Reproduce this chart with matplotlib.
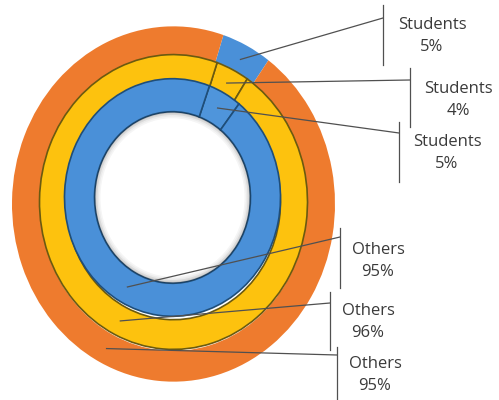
import matplotlib.pyplot as plt
import numpy as np

# data: inner, middle and outer ring
rings = ['inner', 'middle', 'outer']
categories = ['Students', 'Others']
students = [5, 4, 5]
others = [95, 96, 95]

W, H = 499, 400
S = 1.1  # the rings are a bit taller than wide


def px(x, y):
    # picture pixel (from top left) -> data coords
    return x, (H - y) / S


# ring geometry (pixels), start angle of the Students slice, colours
centers = [(172.5, 197.5), (173.5, 202), (173.5, 204)]
radius = [108, 134, 161.5]
width = [30, 27, 28]
start = [70, 71, 72]
colors = [['#4f95db', '#4a90d8'], ['#fdc20e', '#fdc20e'], ['#4a90d8', '#ee7b2e']]
edges = ['#1f4e79', '#6b5a10', 'none']

# label layout: bar x, bar top, bar bottom, line end y, text centre x, text centre y
stud_lab = [(399, 122, 182, 133, 447, 153), (410, 68, 127, 80, 458, 100), (383, 5, 65, 18, 432, 36)]
oth_lab = [(340, 228, 288, 237, 378, 261), (330, 292, 350, 303, 368, 322), (337, 347, 400, 355, 375, 375)]

fig = plt.figure(figsize=(W / 100, H / 100), dpi=100)
ax = fig.add_axes([0, 0, 1, 1])

all_wedges = []
for i in [2, 1, 0]:
    wedges, _ = ax.pie([students[i], others[i]], radius=radius[i], center=px(*centers[i]),
                       startangle=start[i], counterclock=False, colors=colors[i],
                       wedgeprops=dict(width=width[i], edgecolor=edges[i], linewidth=1.2))
    all_wedges.append((i, wedges))

# soft shadow inside the hole
cx, cy = px(*centers[0])
rin = radius[0] - width[0]
for k, a in enumerate([0.25, 0.15, 0.08, 0.04]):
    ax.pie([1], radius=rin - k * 1.5, center=(cx, cy), colors=['#000000'],
           wedgeprops=dict(width=1.5, alpha=a, linewidth=0))

lc = '#505050'
for i, wedges in all_wedges:
    for j, w in enumerate(wedges):
        th = np.deg2rad((w.theta1 + w.theta2) / 2)
        rm = w.r - w.width / 2
        x0 = w.center[0] + rm * np.cos(th)
        y0 = w.center[1] + rm * np.sin(th)
        bx, btop, bbot, ly, tx, ty = (stud_lab if j == 0 else oth_lab)[i]
        ex, ey = px(bx, ly)
        ax.plot([x0, ex], [y0, ey], color=lc, lw=0.9)
        ax.plot(*zip(px(bx, btop), px(bx, bbot)), color=lc, lw=0.9)
        val = students[i] if j == 0 else others[i]
        ax.text(*px(tx, ty), f'{categories[j]}\n{val}%', ha='center', va='center',
                fontsize=12, family='Open Sans', color='#3a3a3a', linespacing=1.45)

ax.set_aspect('auto')
ax.set_xlim(0, W)
ax.set_ylim(0, H / S)
ax.axis('off')
fig.savefig('out.png', dpi=100)
